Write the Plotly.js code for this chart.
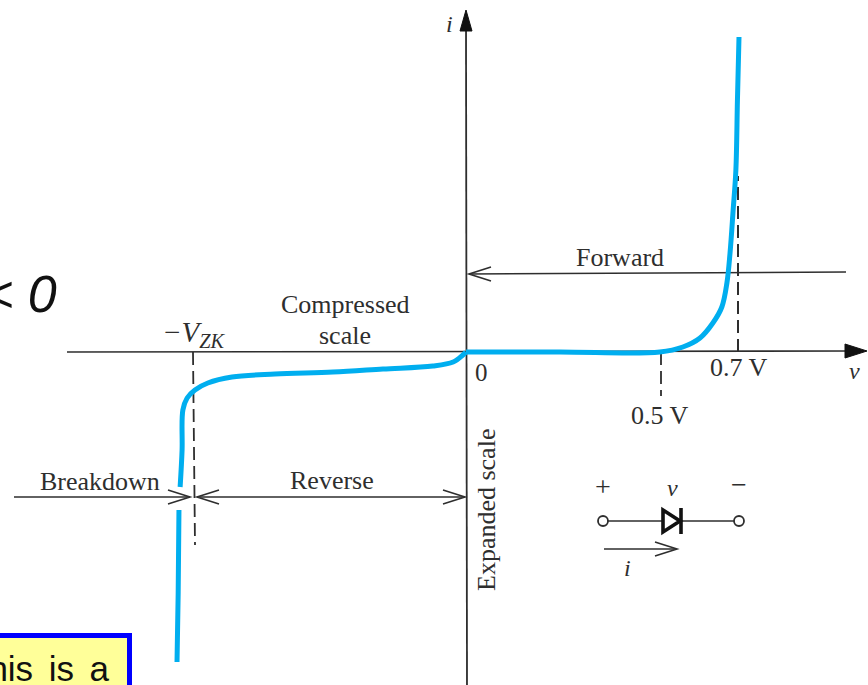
<!DOCTYPE html>
<html>
<head>
<meta charset="utf-8">
<script src="https://cdn.plot.ly/plotly-3.0.1.min.js"></script>
<style>html,body{margin:0;padding:0;background:#fff;overflow:hidden}</style>
</head>
<body>
<div id="chart" style="width:868px;height:685px"></div>
<script>
// Diode i-v curve. v in volts, i in relative units.
const forwardV = [0, 0.241, 0.497, 0.556, 0.600, 0.633, 0.656, 0.669, 0.677, 0.685, 0.692, 0.696, 0.700];
const forwardI = [0, 0, 0, 0.5, 1.4, 2.9, 4.5, 6.9, 9.9, 14.2, 18.2, 25.2, 31.5];
const reverseV = [0, -0.008, -0.033, -0.085, -0.213, -0.341, -0.490, -0.600, -0.662, -0.695, -0.715, -0.726, -0.728, -0.733, null, -0.736, -0.738, -0.741];
const reverseI = [0, -0.3, -1.0, -1.4, -1.7, -2.0, -2.2, -2.5, -3.1, -3.8, -4.6, -5.8, -9.8, -13.5, null, -15.8, -24.1, -31.0];

const W = 868, H = 685;
const originX = 466, originY = 352, pxPerVolt = 390, pxPerUnit = 10;
const xRange = [(0 - originX) / pxPerVolt, (W - originX) / pxPerVolt];
const yRange = [(originY - H) / pxPerUnit, originY / pxPerUnit];
const X = px => (px - originX) / pxPerVolt;
const Y = py => (originY - py) / pxPerUnit;

const INK = '#2e2e2e', BLUE = '#00aeef';
const SERIF = 'Liberation Serif, serif', SANS = 'Liberation Sans, Arial, sans-serif';

const shapes = [];
function line(x0, y0, x1, y1, width, dash) {
  shapes.push({type:'line', layer:'below', x0:X(x0), y0:Y(y0), x1:X(x1), y1:Y(y1),
    line:{color:INK, width:width || 1.6, dash:dash || 'solid'}});
}
// Shape drawn in pixels (y up), anchored at a point on the axes
function pxPath(ax, ay, path, opts) {
  shapes.push(Object.assign({type:'path', xsizemode:'pixel', ysizemode:'pixel',
    xanchor:X(ax), yanchor:Y(ay), path:path, line:{color:INK, width:1.6}}, opts || {}));
}
function openHead(ax, ay, dir) {
  const l = 22 * dir;
  pxPath(ax, ay, `M ${-l} 7 L 0 0 L ${-l} -7`, {layer:'below'});
}
function circle(cx, cy, r) {
  shapes.push({type:'circle', xsizemode:'pixel', ysizemode:'pixel', xanchor:X(cx), yanchor:Y(cy),
    x0:-r, x1:r, y0:-r, y1:r, fillcolor:'#fff', line:{color:INK, width:1.8}});
}

// Axes
line(67, 352, 850, 351);
line(466, 25, 467, 685, 1.8);
pxPath(867, 351, 'M -22 7 L 0 0 L -22 -7 Z', {fillcolor:'#111', line:{color:'#111', width:1}});
pxPath(466, 10, 'M -6 -21 L 0 0 L 6 -21 Z', {fillcolor:'#111', line:{color:'#111', width:1}});

// Dashed guides
const dashes = '13px,6px';
line(193, 352, 195, 545, 1.8, dashes);
line(661, 352, 661, 396, 1.8, dashes);
line(738, 352, 738, 176, 2, dashes);

// Region arrows
line(846, 272, 469, 274);
openHead(469, 274, -1);
line(14, 497, 190, 497);
openHead(190, 497, 1);
line(197, 497, 465, 497);
openHead(197, 497, -1);
openHead(465, 497, 1);

// Diode symbol
line(603, 521, 739, 521);
circle(603, 521, 5);
circle(739, 521, 5);
pxPath(662, 521, 'M 1 -11 L 1 11 L 18 0 Z', {fillcolor:'#fff', line:{color:'#111', width:3.6}});
pxPath(681, 521, 'M 0 -13 L 0 13', {line:{color:'#111', width:3.6}});
line(604, 549, 676, 549);
openHead(677, 549, 1);

// Yellow note box
shapes.push({type:'rect', layer:'below', x0:X(-10), x1:X(129.5), y0:Y(635.5), y1:Y(700),
  fillcolor:'#ffff99', line:{color:'#0000ff', width:5}});

function label(text, x, y, size, extra) {
  return Object.assign({text:text, x:X(x), y:Y(y), xref:'x', yref:'y', showarrow:false,
    xanchor:'center', yanchor:'middle', borderpad:0,
    font:{family:SERIF, size:size || 26, color:INK}}, extra || {});
}
const annotations = [
  label('<i>i</i>', 449, 24, 24),
  label('<i>v</i>', 854, 371, 24),
  label('0', 481, 372, 25),
  label('0.7 V', 739, 367),
  label('0.5 V', 660, 415),
  label('Forward', 620, 257),
  label('Compressed', 345, 304),
  label('scale', 345, 335),
  label('<i>−V<sub>ZK</sub></i>', 194, 334, 29),
  label('Breakdown', 100, 481),
  label('Reverse', 332, 480),
  label('Expanded scale', 486, 510, 26, {textangle:-90}),
  label('+', 603, 486, 28),
  label('<i>v</i>', 672, 488, 24),
  label('−', 739, 484, 28),
  label('<i>i</i>', 627, 568, 24),
  label('<i>&lt; 0</i>', 58, 294, 52, {xanchor:'right', font:{family:SANS, size:52, color:'#111'}}),
  label('This\u2006 is\u2006 a', 111, 668, 35, {xanchor:'right', font:{family:SANS, size:35, color:'#111'}})
];

const curveStyle = {color:BLUE, width:5, shape:'spline', smoothing:1};
const traces = [
  {x:forwardV, y:forwardI, mode:'lines', line:curveStyle, hoverinfo:'skip', name:'Forward'},
  {x:reverseV, y:reverseI, mode:'lines', line:curveStyle, hoverinfo:'skip', name:'Reverse', connectgaps:false}
];

Plotly.newPlot('chart', traces, {
  width:W, height:H, margin:{l:0, r:0, t:0, b:0},
  paper_bgcolor:'#fff', plot_bgcolor:'#fff', showlegend:false,
  xaxis:{range:xRange, visible:false, fixedrange:true},
  yaxis:{range:yRange, visible:false, fixedrange:true},
  shapes:shapes, annotations:annotations
}, {displayModeBar:false, staticPlot:true});
</script>
</body>
</html>
